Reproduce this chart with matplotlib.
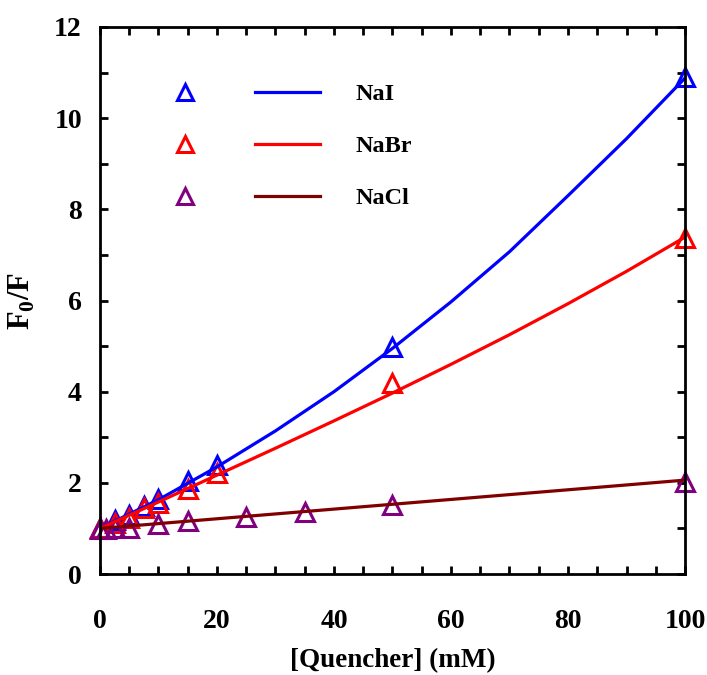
import matplotlib
matplotlib.use("Agg")
import matplotlib.pyplot as plt
from matplotlib.lines import Line2D
from matplotlib.legend_handler import HandlerTuple
from matplotlib.ticker import MultipleLocator

plt.rcParams["font.family"] = "Liberation Serif"
plt.rcParams["font.weight"] = "bold"
plt.rcParams["mathtext.fontset"] = "custom"
plt.rcParams["mathtext.rm"] = "Liberation Serif:bold"
plt.rcParams["mathtext.bf"] = "Liberation Serif:bold"

# ─── Dados ────────────────────────────────────────────────────────────────────

nai_x = [0, 2.5, 5, 7.5, 10, 15, 20, 50, 100]
nai_y = [1.0, 1.18, 1.29, 1.49, 1.64, 2.04, 2.39, 4.98, 10.9]
nabr_x = [0, 2.5, 5, 7.5, 10, 15, 20, 50, 100]
nabr_y = [1.0, 1.12, 1.23, 1.45, 1.56, 1.86, 2.21, 4.19, 7.37]
nacl_x = [0, 1, 2.5, 5, 10, 15, 25, 35, 50, 100]
nacl_y = [0.99, 0.99, 1.0, 1.01, 1.1, 1.16, 1.25, 1.36, 1.51, 2.02]

# curvas ajustadas
fit_x = [0, 10, 20, 30, 40, 50, 60, 70, 80, 90, 100]
nai_fit = [1.0, 1.63, 2.35, 3.14, 4.0, 4.95, 5.97, 7.07, 8.3, 9.55, 10.88]
nabr_fit = [1.0, 1.58, 2.17, 2.76, 3.36, 3.97, 4.6, 5.25, 5.93, 6.64, 7.39]
nacl_fit_x = [0, 50, 100]
nacl_fit = [1.0, 1.53, 2.06]

series = [
    ("NaI", nai_x, nai_y, fit_x, nai_fit, "#0000FF", "#0000FF"),
    ("NaBr", nabr_x, nabr_y, fit_x, nabr_fit, "#FF0000", "#FF0000"),
    ("NaCl", nacl_x, nacl_y, nacl_fit_x, nacl_fit, "#800080", "#800000"),
]

fig = plt.figure(figsize=(7.07, 6.75), dpi=100)
ax = fig.add_axes([0.1414, 0.1496, 0.8275, 0.8104])

handles, labels = [], []
for name, x, y, fx, fy, mcol, lcol in series:
    ax.plot(x, y, linestyle="none", marker="^", markersize=13,
            markerfacecolor="none", markeredgecolor=mcol, markeredgewidth=2.2,
            clip_on=False, zorder=3)
    ax.plot(fx, fy, color=lcol, linewidth=2.3, zorder=4)
    m = Line2D([], [], linestyle="none", marker="^", markersize=12,
               markerfacecolor="none", markeredgecolor=mcol, markeredgewidth=2.2)
    l = Line2D([], [], color=lcol, linewidth=2.3)
    handles.append((m, l))
    labels.append(name)

ax.legend(handles, labels, handler_map={tuple: HandlerTuple(ndivide=None, pad=1.54)},
          loc="upper left", bbox_to_anchor=(0.0897, 0.897), frameon=False,
          borderaxespad=0, borderpad=0,
          fontsize=17.5, handlelength=6.9, handletextpad=1.44, labelspacing=1.23)

ax.set_xlim(0, 100)
ax.set_ylim(0, 12)
ax.xaxis.set_major_locator(MultipleLocator(20))
ax.xaxis.set_minor_locator(MultipleLocator(5))
ax.yaxis.set_major_locator(MultipleLocator(2))
ax.yaxis.set_minor_locator(MultipleLocator(1))
ax.tick_params(which="both", direction="in", top=True, right=True,
               width=2, length=6, labelsize=20)
ax.tick_params(axis="x", which="major", pad=25)
ax.tick_params(axis="y", which="major", pad=13)
for s in ax.spines.values():
    s.set_linewidth(2)
    s.set_zorder(5)

ax.set_xlabel("[Quencher] (mM)", fontsize=19.5, fontweight="bold", labelpad=10)
ax.set_ylabel(r"F$_\mathbf{0}$/F", fontsize=22, fontweight="bold", labelpad=12)

fig.savefig("out.png", dpi=100)
plt.close(fig)
